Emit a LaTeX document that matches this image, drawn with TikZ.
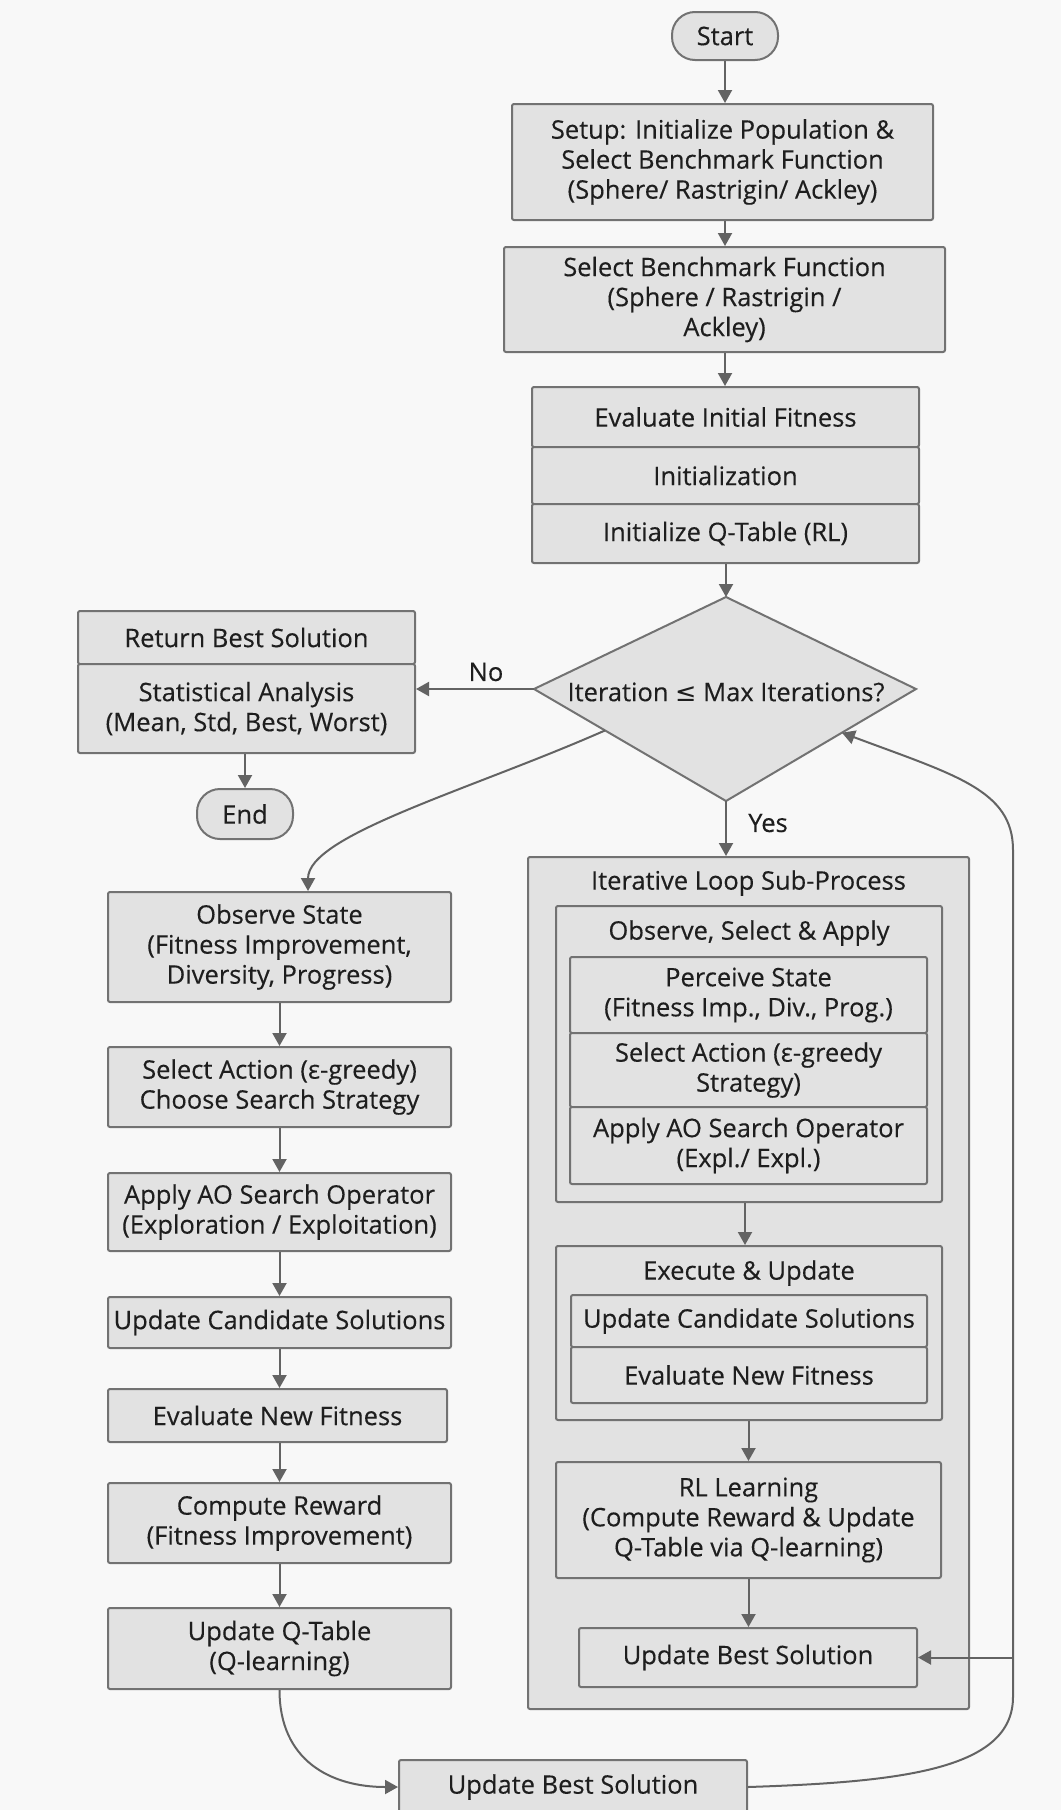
\documentclass[tikz,border=0pt]{standalone}
\usepackage{fontspec}
\setmainfont{Open Sans}[FakeBold=0.3]
\newfontfamily\symfont{DejaVu Sans}
\usepackage{xcolor}
\usepackage{tikz}
\usetikzlibrary{positioning,calc}
\usetikzlibrary{arrows.meta}

\definecolor{bgc}{HTML}{F8F8F8}
\definecolor{boxc}{HTML}{E2E2E2}
\definecolor{edgec}{HTML}{727272}
\definecolor{arrc}{HTML}{636363}
\definecolor{txtc}{HTML}{1E1E1E}

\tikzset{
  proc/.style={draw=edgec, fill=boxc, line width=2pt, rounded corners=2pt,
    text=txtc, align=center, inner sep=0pt},
  term/.style={proc, rounded corners=23pt},
  flow/.style={draw=arrc, line width=2pt, -{Triangle[length=13pt,width=14pt]}},
  lbl/.style={text=txtc, align=center, inner sep=0pt},
}

\begin{document}
\begin{tikzpicture}[x=1pt, y=-1pt, every node/.append style={font=\fontsize{25.5}{30}\selectfont}]
    % background, page size
    \fill[bgc] (0,0) rectangle (1061,1810);
    \useasboundingbox (0,0) rectangle (1061,1810);
    \clip (0,0) rectangle (1061,1810);

    % top column
    \node[term, minimum width=106pt, minimum height=48pt] (start) at (725,36) {Start};
    \node[proc, minimum width=421pt, minimum height=116pt] (setup) at (722.5,162)
        {Setup: Initialize Population \&\\Select Benchmark Function\\(Sphere/ Rastrigin/ Ackley)};
    \node[proc, minimum width=441pt, minimum height=105pt] (bench) at (724.5,299.5)
        {Select Benchmark Function\\(Sphere / Rastrigin /\\Ackley)};
    \node[proc, minimum width=387pt, minimum height=60pt] (evalinit) at (725.5,417) {Evaluate Initial Fitness};
    \node[proc, minimum width=387pt, minimum height=57pt] (initz) at (725.5,475.5) {Initialization};
    \node[proc, minimum width=387pt, minimum height=59pt] (initq) at (725.5,533.5) {Initialize Q-Table (RL)};

    % decision
    \coordinate (dtop) at (726,597);
    \coordinate (dright) at (916,689);
    \coordinate (dbot) at (726,801);
    \coordinate (dleft) at (534,689);
    \coordinate (dsw) at ($(dleft)!0.37!(dbot)$);
    \coordinate (dse) at ($(dright)!0.39!(dbot)$);
    \draw[draw=edgec, fill=boxc, line width=2pt] (dtop) -- (dright) -- (dbot) -- (dleft) -- cycle;
    \node[lbl] (dtext) at (726,692) {Iteration {\symfont ≤} Max Iterations?};

    % exit branch
    \node[proc, minimum width=337pt, minimum height=53pt] (ret) at (246.5,637.5) {Return Best Solution};
    \node[proc, minimum width=337pt, minimum height=89pt] (stat) at (246.5,708.5)
        {Statistical Analysis\\(Mean, Std, Best, Worst)};
    \node[term, minimum width=96pt, minimum height=50pt] (end) at (245,814) {End};

    % left column
    \node[proc, minimum width=343pt, minimum height=110pt] (obs) at (279.5,947)
        {Observe State\\(Fitness Improvement,\\Diversity, Progress)};
    \node[proc, minimum width=343pt, minimum height=80pt] (sel) at (279.5,1087)
        {Select Action (ε-greedy)\\Choose Search Strategy};
    \node[proc, minimum width=343pt, minimum height=78pt] (app) at (279.5,1212)
        {Apply AO Search Operator\\(Exploration / Exploitation)};
    \node[proc, minimum width=343pt, minimum height=51pt] (upc) at (279.5,1322.5) {Update Candidate Solutions};
    \node[proc, minimum width=339pt, minimum height=53pt] (evn) at (277.5,1415.5) {Evaluate New Fitness};
    \node[proc, minimum width=343pt, minimum height=80pt] (rew) at (279.5,1523)
        {Compute Reward\\(Fitness Improvement)};
    \node[proc, minimum width=343pt, minimum height=81pt] (upq) at (279.5,1648.5)
        {Update Q-Table\\(Q-learning)};

    % sub-process
    \node[proc, minimum width=441pt, minimum height=852pt] (iter) at (748.5,1283) {};
    \node[lbl] (itertitle) at (748.5,883) {Iterative Loop Sub-Process};
    \node[proc, minimum width=386pt, minimum height=296pt] (osa) at (749,1054) {};
    \node[lbl] (osatitle) at (749,933) {Observe, Select \& Apply};
    \node[proc, minimum width=357pt, minimum height=76pt] (per) at (748.5,995)
        {Perceive State\\(Fitness Imp., Div., Prog.)};
    \node[proc, minimum width=357pt, minimum height=74pt] (sela) at (748.5,1070)
        {Select Action (ε-greedy\\Strategy)};
    \node[proc, minimum width=357pt, minimum height=77pt] (apa) at (748.5,1145.5)
        {Apply AO Search Operator\\(Expl./ Expl.)};
    \node[proc, minimum width=386pt, minimum height=174pt] (exe) at (749,1333) {};
    \node[lbl] (exetitle) at (749,1273) {Execute \& Update};
    \node[proc, minimum width=356pt, minimum height=52pt] (upc2) at (749,1321) {Update Candidate Solutions};
    \node[proc, minimum width=356pt, minimum height=56pt] (evn2) at (749,1375) {Evaluate New Fitness};
    \node[proc, minimum width=385pt, minimum height=116pt] (rl) at (748.5,1520)
        {RL Learning\\(Compute Reward \& Update\\Q-Table via Q-learning)};
    \node[proc, minimum width=338pt, minimum height=59pt] (ubs) at (748,1657.5) {Update Best Solution};

    \node[proc, minimum width=348pt, minimum height=54pt] (bub) at (573,1787) {Update Best Solution};

    % main flow
    \draw[flow] (start.south) -- (start.south |- setup.north);
    \draw[flow] (setup.south -| start.south) -- (start.south |- bench.north);
    \draw[flow] (bench.south -| start.south) -- (start.south |- evalinit.north);
    \draw[flow] (initq.south -| dtop) -- (dtop);
    \draw[flow] (dleft) -- (dleft -| stat.east);
    \node[lbl] (nolbl) at (486,672) {No};
    \draw[flow] (stat.south -| end.north) -- (end.north);
    \draw[flow] (dbot) -- (dbot |- iter.north);
    \node[lbl] (yeslbl) at (768,823) {Yes};

    % left chain
    \draw[flow] (dsw) .. controls (470,790) and (308,835) .. ([xshift=28.5pt]obs.north);
    \draw[flow] (obs) -- (sel);
    \draw[flow] (sel) -- (app);
    \draw[flow] (app) -- (upc);
    \draw[flow] (upc.south) -- (upc.south |- evn.north);
    \draw[flow] (upc.south |- evn.south) -- (upc.south |- rew.north);
    \draw[flow] (rew) -- (upq);
    \draw[flow] (upq.south) .. controls (279.5,1760) and (330,1787) .. (bub.west);

    % inner chain
    \draw[flow] (osa.south -| 745,0) -- (exe.north -| 745,0);
    \draw[flow] (exe.south -| rl.north) -- (rl.north);
    \draw[flow] (rl.south) -- (rl.south |- ubs.north);

    % loop back
    \coordinate (railtop) at (1013,850);
    \coordinate (railbot) at (1013,1697);
    \draw[flow] (bub.east) .. controls (900,1782) and (1013,1770) .. (railbot)
        -- (railtop) .. controls (1013,790) and (955,775) .. (dse);
    \draw[flow] (ubs.east -| railtop) -- (ubs.east);
\end{tikzpicture}
\end{document}
